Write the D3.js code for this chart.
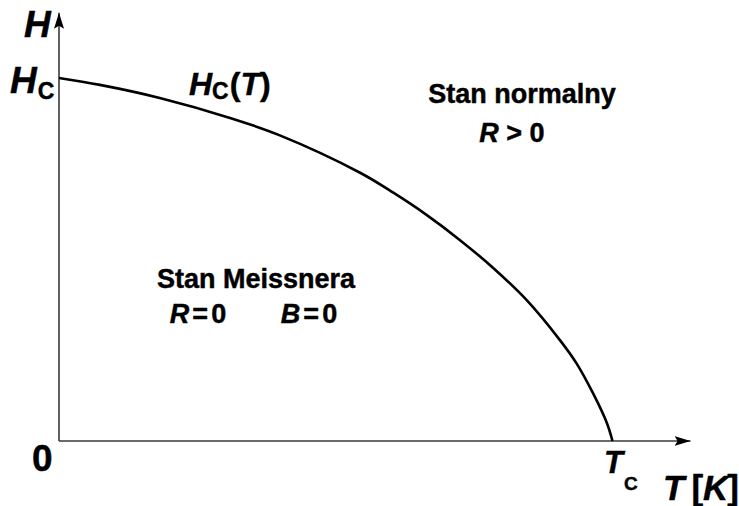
<!DOCTYPE html>
<html>
<head>
<meta charset="utf-8">
<script src="https://cdn.jsdelivr.net/npm/d3@7"></script>
<style>
  html, body { margin: 0; padding: 0; background: #fff; }
  svg { display: block; font-family: "Liberation Sans", Arial, sans-serif; font-weight: bold; }
  text { stroke: #000; stroke-width: 0.45px; }
</style>
</head>
<body>
<svg id="chart" width="739" height="506"></svg>
<script>
// Critical field curve H_c(T), normalised: T / T_c and H / H_c
const tRel = [0, 0.074, 0.182, 0.309, 0.399, 0.544, 0.604, 0.664, 0.724, 0.785, 0.845, 0.905, 0.935, 0.965, 0.990, 1];
const hRel = [1, 0.981, 0.945, 0.890, 0.842, 0.739, 0.684, 0.623, 0.554, 0.476, 0.388, 0.278, 0.214, 0.131, 0.049, 0];

// Axis extents (beyond T_c and H_c, for the arrows)
const tAxisMax = 1.141;
const hAxisMax = 1.18;

const svg = d3.select("#chart");

const x = d3.scaleLinear().domain([0, 1]).range([59, 612.5]);
const y = d3.scaleLinear().domain([0, 1]).range([441, 78]);

// Arrow marker
svg.append("defs").append("marker")
  .attr("id", "arrow")
  .attr("viewBox", "0 0 16 10")
  .attr("refX", 16).attr("refY", 5)
  .attr("markerWidth", 16).attr("markerHeight", 10)
  .attr("markerUnits", "userSpaceOnUse")
  .attr("orient", "auto")
  .append("path")
  .attr("d", "M0,0 L16,5 L0,10 L3,5 Z")
  .attr("fill", "#000");

const axisColor = "#3a3a3a";

// Horizontal axis (T)
svg.append("line")
  .attr("x1", x(0)).attr("y1", y(0))
  .attr("x2", x(tAxisMax)).attr("y2", y(0))
  .attr("stroke", axisColor).attr("stroke-width", 1.6)
  .attr("marker-end", "url(#arrow)");

// Vertical axis (H)
svg.append("line")
  .attr("x1", x(0)).attr("y1", y(0))
  .attr("x2", x(0)).attr("y2", y(hAxisMax))
  .attr("stroke", axisColor).attr("stroke-width", 1.6)
  .attr("marker-end", "url(#arrow)");

// Phase boundary
const pts = tRel.map((t, i) => [t, hRel[i]]);
svg.append("path")
  .datum(pts)
  .attr("fill", "none")
  .attr("stroke", "#000")
  .attr("stroke-width", 2.6)
  .attr("d", d3.line().x(d => x(d[0])).y(d => y(d[1])).curve(d3.curveCatmullRom.alpha(0.5)));

// Helper for text with tspans
function label(px, py, parts, anchor) {
  const t = svg.append("text").attr("x", px).attr("y", py)
    .attr("text-anchor", anchor || "start").attr("fill", "#000");
  parts.forEach(p => {
    const s = t.append("tspan").text(p.text).attr("font-size", p.size);
    if (p.italic) s.attr("font-style", "italic");
    if (p.dy) s.attr("dy", p.dy);
    if (p.dx) s.attr("dx", p.dx);
  });
  return t;
}

// Axis labels
label(24, 37, [{ text: "H", size: 37, italic: true }]);
label(10, 93, [
  { text: "H", size: 37, italic: true },
  { text: "C", size: 23, dy: 6, dx: 1 }
]);
label(32, 471, [{ text: "0", size: 37 }]);
label(604, 473, [
  { text: "T", size: 31, italic: true },
  { text: "C", size: 19, dy: 17, dx: 1 }
]);
label(663, 500, [
  { text: "T", size: 35, italic: true },
  { text: "[", size: 35, dx: 7 },
  { text: "K", size: 35, italic: true },
  { text: "]", size: 35, dx: -1 }
]);

// Curve label
label(189, 95, [
  { text: "H", size: 32, italic: true },
  { text: "C", size: 23, dy: 4 },
  { text: "(", size: 32, dy: -4, dx: 1 },
  { text: "T", size: 32, italic: true },
  { text: ")", size: 32 }
]);

// Region annotations
label(522, 103, [{ text: "Stan normalny", size: 27 }], "middle");
label(512, 142, [
  { text: "R", size: 27, italic: true },
  { text: " > 0", size: 27 }
], "middle");

label(256, 288, [{ text: "Stan Meissnera", size: 27 }], "middle");
label(198, 323, [
  { text: "R", size: 27, italic: true },
  { text: "=", size: 27, dx: 3 },
  { text: "0", size: 27, dx: 3 }
], "middle");
label(309, 323, [
  { text: "B", size: 27, italic: true },
  { text: "=", size: 27, dx: 3 },
  { text: "0", size: 27, dx: 3 }
], "middle");
</script>
</body>
</html>
